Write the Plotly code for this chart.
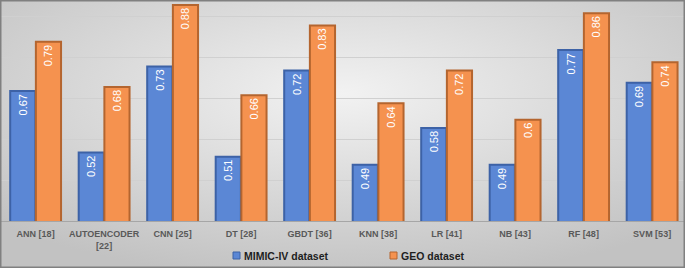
import base64
import plotly.graph_objects as go

categories = ["ANN [18]", "AUTOENCODER<br>[22]", "CNN [25]", "DT [28]", "GBDT [36]",
              "KNN [38]", "LR [41]", "NB [43]", "RF [48]", "SVM [53]"]
mimic = [0.67, 0.52, 0.73, 0.51, 0.72, 0.49, 0.58, 0.49, 0.77, 0.69]
geo = [0.79, 0.68, 0.88, 0.66, 0.83, 0.64, 0.72, 0.6, 0.86, 0.74]
series_names = ["MIMIC-IV dataset", "GEO dataset"]
fill_colors = ["#5b87d5", "#f5924f"]
edge_colors = ["#3d62a6", "#b4652f"]

W, H = 685, 268
bottom_px = 47
y_min = 0.353
px_per_unit = 410.0
y_max = y_min + (H - bottom_px) / px_per_unit

svg = (
    f"<svg xmlns='http://www.w3.org/2000/svg' width='{W}' height='{H}' preserveAspectRatio='none'>"
    "<defs><radialGradient id='g' cx='50%' cy='35%' r='70%'>"
    "<stop offset='0' stop-color='#f2f2f2'/><stop offset='1' stop-color='#c2c2c2'/>"
    "</radialGradient></defs>"
    f"<rect width='{W}' height='{H}' fill='url(#g)'/></svg>"
)
bg_uri = "data:image/svg+xml;base64," + base64.b64encode(svg.encode()).decode()

fig = go.Figure()
for name, vals, fc, ec in zip(series_names, [mimic, geo], fill_colors, edge_colors):
    fig.add_trace(go.Bar(
        x=categories, y=vals, name=name, showlegend=False,
        text=[str(v) for v in vals], textposition="inside", insidetextanchor="end",
        textangle=-90, constraintext="none",
        textfont=dict(color="white", size=11, family="Liberation Sans, Arial"),
        marker=dict(color=fc, line=dict(color=ec, width=2)),
    ))


def px_x(p):
    return p / W


def px_y(p):
    return 1 - p / H


shapes = [dict(type="rect", xref="paper", yref="paper", x0=0, x1=1, y0=0, y1=1,
               line=dict(color="#808080", width=3), fillcolor="rgba(0,0,0,0)")]
annotations = []
legend_x = [233, 390]
for name, fc, ec, lx in zip(series_names, fill_colors, edge_colors, legend_x):
    shapes.append(dict(type="rect", xref="paper", yref="paper",
                       x0=px_x(lx), x1=px_x(lx + 7), y0=px_y(259), y1=px_y(252),
                       fillcolor=fc, line=dict(color=ec, width=1)))
    annotations.append(dict(text=name, xref="paper", yref="paper", x=px_x(lx + 9),
                            y=px_y(255.5), xanchor="left", yanchor="middle", showarrow=False,
                            font=dict(family="Liberation Sans, Arial", size=10.5,
                                      color="#1e1e1e", weight="bold")))

fig.update_layout(
    width=W, height=H,
    margin=dict(l=0, r=0, t=0, b=0),
    paper_bgcolor="#d8d8d8",
    plot_bgcolor="rgba(0,0,0,0)",
    barmode="group", bargap=0.25, bargroupgap=0.02,
    images=[dict(source=bg_uri, xref="paper", yref="paper", x=0, y=1,
                 sizex=1, sizey=1, sizing="stretch", layer="below")],
    xaxis=dict(
        range=[-0.52, 9.48],
        showgrid=False, showline=True, linecolor="#a6a6a6", linewidth=1,
        ticks="", automargin=False, ticklabelstandoff=4,
        tickfont=dict(family="Liberation Sans, Arial", size=9, color="#595959", weight="bold"),
    ),
    yaxis=dict(
        domain=[bottom_px / H, 1], range=[y_min, y_max],
        tick0=0.353, dtick=0.1, showticklabels=False, ticks="",
        showgrid=True, gridcolor="#d0d0d0", gridwidth=1, zeroline=False,
        automargin=False,
    ),
    showlegend=False,
    shapes=shapes,
    annotations=annotations,
)

fig.write_html("out.html", config={"displayModeBar": False},
               post_script="document.body.style.margin='0';document.body.style.overflow='hidden';")
